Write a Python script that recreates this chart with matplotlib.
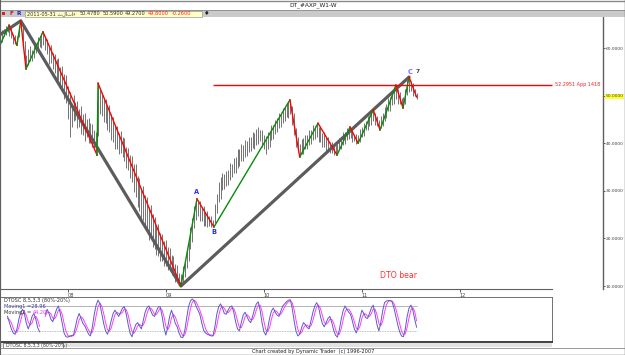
import numpy as np
import matplotlib
matplotlib.use("Agg")
import matplotlib.pyplot as plt
from matplotlib.patches import Rectangle

# picture size in pixels and week scale
W, H = 625, 355
PX_WEEK = 1.885

# weekly bars (week 0 = left edge), prices
bar_high = [
    62.6, 63.8, 63.9, 64.6, 64.8, 64.5, 64.2, 63.0, 62.8, 62.6,
    64.6, 65.7, 64.5, 61.5, 58.5, 59.8, 60.5, 59.6, 61.2, 61.0,
    62.4, 62.2, 63.1, 63.4, 62.5, 61.8, 60.2, 60.6, 59.0, 58.8,
    57.6, 57.8, 56.0, 56.3, 54.5, 54.4, 52.0, 50.8, 48.0, 50.2,
    48.6, 48.8, 47.2, 47.9, 46.2, 46.4, 45.0, 45.3, 44.2, 44.0,
    42.8, 42.4, 52.6, 51.2, 50.4, 49.2, 49.3, 47.6, 48.0, 46.2,
    45.6, 43.8, 43.6, 42.2, 42.6, 41.2, 41.0, 39.2, 39.0, 37.6,
    37.4, 35.6, 35.6, 33.2, 32.6, 30.6, 31.0, 29.2, 28.6, 26.6,
    27.0, 25.2, 24.6, 22.6, 23.0, 21.2, 21.0, 19.4, 19.6, 18.2,
    18.0, 16.6, 16.4, 14.6, 14.4, 12.8, 12.6, 14.2, 15.3, 17.8,
    19.2, 22.3, 24.2, 26.8, 28.3, 27.6, 27.8, 26.6, 26.8, 25.6,
    25.8, 24.8, 24.7, 23.9, 27.2, 29.3, 31.8, 32.8, 33.8, 33.6,
    34.2, 34.3, 35.8, 35.7, 36.8, 37.0, 38.7, 38.8, 39.8, 39.7,
    40.6, 40.5, 41.3, 41.2, 42.3, 42.2, 43.0, 43.3, 42.7, 42.8,
    41.8, 41.6, 42.3, 42.6, 43.8, 43.8, 44.8, 45.2, 46.3, 46.2,
    47.5, 47.6, 48.5, 48.6, 49.1, 47.8, 46.3, 43.2, 41.3, 39.8,
    40.8, 41.0, 41.8, 41.8, 42.8, 42.7, 43.8, 43.7, 44.2, 43.5,
    43.3, 42.2, 42.3, 41.2, 41.3, 40.3, 40.3, 39.6, 39.7, 39.9,
    41.0, 41.3, 42.3, 42.3, 43.2, 43.4, 42.8, 42.7, 41.8, 42.0,
    41.8, 43.0, 43.3, 44.2, 44.6, 45.7, 45.8, 46.7, 47.0, 46.3,
    45.7, 44.8, 45.7, 46.3, 47.7, 48.3, 49.4, 49.8, 51.0, 51.3,
    52.2, 51.3, 50.7, 49.6, 49.7, 51.3, 53.2, 53.9, 53.0, 52.6,
    51.3, 50.59,
]
bar_low = [
    60.6, 61.2, 62.5, 62.7, 63.3, 62.5, 62.2, 60.8, 60.9, 60.6,
    62.3, 63.6, 60.2, 57.3, 55.6, 56.4, 57.2, 57.3, 58.0, 59.0,
    59.3, 60.2, 60.0, 60.7, 59.5, 58.8, 56.7, 56.8, 55.5, 54.8,
    53.5, 53.3, 51.7, 51.1, 49.2, 48.4, 45.0, 41.3, 43.4, 44.7,
    44.8, 43.2, 43.3, 41.9, 41.8, 40.5, 41.2, 40.0, 40.0, 39.3,
    39.0, 37.5, 41.5, 46.2, 45.8, 44.5, 44.3, 42.7, 42.3, 40.7,
    40.3, 38.8, 38.8, 37.8, 38.0, 37.0, 36.3, 34.7, 34.3, 32.7,
    31.8, 29.7, 28.8, 26.7, 25.8, 24.3, 23.8, 22.2, 21.3, 19.7,
    19.8, 18.2, 17.8, 16.5, 16.3, 15.2, 15.3, 14.3, 14.2, 13.3,
    13.2, 12.3, 12.0, 10.9, 11.0, 10.2, 10.0, 10.7, 11.8, 13.7,
    15.3, 17.7, 19.3, 22.2, 23.8, 24.7, 23.6, 23.7, 22.6, 22.7,
    22.4, 22.7, 22.5, 22.4, 23.2, 25.3, 27.7, 28.3, 30.2, 30.3,
    31.0, 31.3, 32.2, 32.8, 33.7, 33.8, 34.7, 35.3, 36.2, 36.3,
    37.2, 37.3, 38.2, 38.3, 39.0, 38.8, 39.7, 39.8, 40.4, 39.3,
    38.7, 37.8, 38.7, 39.3, 40.7, 40.8, 42.0, 42.3, 43.2, 43.3,
    44.2, 44.6, 45.4, 45.3, 46.2, 43.8, 41.7, 39.3, 38.2, 37.1,
    37.7, 37.8, 38.7, 38.8, 39.7, 39.8, 40.7, 40.8, 41.4, 40.3,
    40.2, 39.3, 39.2, 38.3, 38.2, 38.0, 38.0, 37.5, 37.7, 37.6,
    38.7, 38.8, 39.7, 39.8, 40.7, 40.8, 41.0, 40.3, 40.4, 39.8,
    40.2, 40.3, 41.2, 41.6, 42.7, 42.8, 43.7, 43.8, 44.7, 43.8,
    43.7, 42.8, 43.2, 43.6, 44.7, 45.3, 46.7, 46.8, 48.0, 48.3,
    49.2, 48.3, 48.2, 47.5, 47.4, 48.3, 50.2, 50.8, 51.0, 50.0,
    50.0, 49.27,
]

# swing pivots (zigzag) and the big A-B-C gray lines
zz_week = [0, 4.8, 9, 11, 13.8, 22.8, 51.5, 52, 96, 104.5, 113.5, 153.8, 159,
           168.7, 178.8, 185.7, 190, 198, 201.6, 210, 213.8, 217, 221]
zz_price = [60.6, 64.8, 60.6, 65.7, 55.6, 63.4, 37.5, 52.6, 10.0, 28.3, 22.4, 49.1,
            37.1, 44.2, 37.5, 43.4, 40.0, 47.0, 42.8, 52.2, 47.4, 53.9, 49.7]
abc_week = [0, 11, 96, 217]
abc_price = [62.8, 65.7, 10.0, 53.9]

target_price = 52.2951
target_label = "52.2951 App 1418"
target_from, target_to = 113, 293

price_ticks = [10, 20, 30, 40, 50, 60]
year_weeks = [36, 88, 140, 192, 244]
year_labels = ["08", "09", "10", "11", "12"]

# DTOSC 8,5,3,3 lines, weeks 4..221 (nan = gap)
nan = np.nan
osc_fast = [
    55, 40, 25, 15, 12, 25, 48, 65, 72, 60, 38, 25, 38, 55, 62, 48, 28, 18,
    nan, nan, 60, 72, 62, 48, 42, 58, 72, 80, 62, 38, 15, 6, 5, 8, 9, 10,
    30, 50, 62, 50, 38, 32, 22, 12, 8, 30, 60, 82, 94, 85, 62, 38, 20, 12,
    25, 45, 62, 70, 62, 55, 65, 75, 78, 60, 35, 15, 6, 22, 35, 40, 32, 25,
    45, 65, 76, 80, 68, 58, 55, 68, 78, 78, 55, 28, 10, 30, 55, 70, 55, 38,
    30, 15, 5, 4, 20, 50, 78, 92, 97, 92, 80, 70, 60, 40, 22, 15, 12, 10,
    8, 8, 30, 60, 78, 85, 75, 62, 60, 70, 78, 80, 65, 42, 25, 20, 40, 58,
    65, 55, 45, 40, 55, 72, 85, 90, 70, 40, 18, 10, 25, 50, 68, 75, 65, 58,
    55, 68, 80, 85, 90, 94, 95, 75, 45, 20, 8, 12, 28, 40, 35, 28, 25, 45,
    65, 80, 88, 78, 55, 38, 30, 40, 50, 55, 40, 22, 10, 5, 22, 48, 68, 80,
    72, 65, 60, 42, 25, 15, 30, 52, 70, 62, 52, 50, 62, 75, 82, 60, 35, 20,
    40, 68, 88, 92, 93, 93, 90, 75, 55, 35, 18, 8, 6, 25, 55, 75, 82, 70,
    48, 28.96,
]
osc_slow = [
    50, 47, 40, 27, 17, 17, 28, 46, 62, 66, 57, 41, 34, 39, 52, 55, 46, 31,
    nan, nan, 55, 65, 65, 61, 51, 49, 57, 70, 71, 60, 38, 20, 9, 6, 7, 9,
    16, 30, 47, 54, 50, 40, 31, 22, 14, 17, 33, 57, 79, 87, 80, 62, 40, 23,
    19, 27, 44, 59, 65, 62, 61, 65, 73, 71, 58, 37, 19, 14, 21, 32, 36, 32,
    34, 45, 62, 74, 75, 69, 60, 60, 67, 75, 70, 54, 31, 23, 32, 52, 60, 54,
    41, 28, 17, 8, 10, 25, 49, 73, 89, 94, 90, 81, 70, 57, 41, 26, 16, 12,
    10, 9, 15, 33, 56, 74, 79, 74, 66, 64, 69, 76, 74, 62, 44, 29, 28, 39,
    54, 59, 55, 47, 47, 56, 71, 82, 82, 67, 43, 23, 18, 28, 48, 64, 69, 66,
    59, 60, 68, 78, 85, 90, 93, 88, 72, 47, 24, 13, 16, 27, 34, 34, 29, 33,
    45, 63, 78, 82, 74, 57, 41, 36, 40, 48, 48, 39, 24, 12, 12, 25, 46, 65,
    73, 72, 66, 56, 42, 27, 23, 32, 51, 61, 61, 55, 55, 62, 73, 72, 59, 38,
    32, 43, 65, 83, 91, 93, 92, 86, 73, 55, 36, 20, 11, 13, 29, 52, 71, 76,
    67, 44.2,
]
osc_start = 4


def box(x0, y0, x1, y1):
    return [x0 / W, 1 - y1 / H, (x1 - x0) / W, (y1 - y0) / H]


def py(y):
    # pixel row -> price
    return 10 + (286 - y) / 4.76


fig = plt.figure(figsize=(W / 100, H / 100), dpi=100)
fig.patch.set_facecolor("white")

# ---------- main price panel ----------
ax = fig.add_axes(box(0, 17, 603, 289))
ax.set_xlim(0, 603 / PX_WEEK)
ax.set_ylim(py(289), py(17))

weeks = np.arange(len(bar_high))
ax.vlines(weeks, bar_low, bar_high, color="#686868", lw=0.65, zorder=2)

ax.plot(abc_week, abc_price, color="#5c5c5c", lw=2.3, solid_capstyle="round", zorder=3)
for i in range(len(zz_week) - 1):
    c = "#0a8a0a" if zz_price[i + 1] > zz_price[i] else "#ff0000"
    ax.plot(zz_week[i:i + 2], zz_price[i:i + 2], color=c, lw=1.0, zorder=4)

ax.hlines(target_price, target_from, target_to, color="#ff0000", lw=1.0, zorder=4)
ax.text(target_to + 1.5, target_price, target_label, color="#ff2020", fontsize=3.5,
        va="center", ha="left")

ax.annotate("A", (zz_week[9], zz_price[9]), xytext=(0, 2.5), textcoords="offset points",
            ha="center", va="bottom", fontsize=4.8, color="#2d2dff", fontweight="bold")
ax.annotate("B", (zz_week[10], zz_price[10]), xytext=(0, -1.5), textcoords="offset points",
            ha="center", va="top", fontsize=4.8, color="#2d2dff", fontweight="bold")
ax.annotate("C", (zz_week[21], zz_price[21]), xytext=(1, 1.5), textcoords="offset points",
            ha="center", va="bottom", fontsize=4.8, color="#6c6cff", fontweight="bold")
ax.annotate("7", (zz_week[21], zz_price[21]), xytext=(6.5, 2.5), textcoords="offset points",
            ha="center", va="bottom", fontsize=4.2, color="#404040", fontweight="bold")
ax.text(399 / 603, (289 - 275) / 272, "DTO bear", transform=ax.transAxes,
        color="#ff3030", fontsize=5.6, ha="center", va="center")

ax.yaxis.tick_right()
ax.set_yticks(price_ticks)
ax.set_yticklabels([f"{v:.4f}" for v in price_ticks])
ax.tick_params(axis="y", direction="out", length=1.5, width=0.6, labelsize=3.2, pad=0.5,
               colors="#404040")
for lab, v in zip(ax.get_yticklabels(), price_ticks):
    if v == 50:
        lab.set_bbox(dict(facecolor="#ffff30", edgecolor="none", pad=0.3))
ax.set_xticks(year_weeks)
ax.set_xticklabels(year_labels, ha="left")
ax.tick_params(axis="x", direction="out", length=2, width=0.6, labelsize=3.6, pad=0.8,
               colors="#404040")

ax.spines["top"].set_visible(False)
ax.spines["left"].set_color("#404040")
ax.spines["right"].set_color("#606060")
ax.spines["right"].set_linewidth(1.0)
ax.spines["bottom"].set_color("#606060")
ax.spines["bottom"].set_bounds(0, 552 / PX_WEEK)

# ---------- oscillator panel ----------
oax = fig.add_axes(box(0, 297, 552, 342))
oax.set_xlim(0, 552 / PX_WEEK)
oax.set_ylim(-6.6, 101.6)
oax.set_xticks([])
oax.set_yticks([])
ow = np.arange(osc_start, osc_start + len(osc_fast))
oax.hlines(80, osc_start, ow[-1], color="#a8a8a8", lw=0.6)
oax.hlines(20, osc_start, ow[-1], color="#a8a8a8", lw=0.6, linestyles=(0, (1, 1)))
oax.plot(ow, osc_slow, color="#ff3cff", lw=0.7)
oax.plot(ow, osc_fast, color="#5a5ac8", lw=0.7)
for s in oax.spines.values():
    s.set_color("#707070")
    s.set_linewidth(0.7)
oax.spines["bottom"].set_linewidth(1.4)
oax.spines["bottom"].set_color("#404040")

# ---------- window chrome (pixel coords overlay) ----------
bg = fig.add_axes([0, 0, 1, 1], zorder=5)
bg.set_xlim(0, W)
bg.set_ylim(H, 0)
bg.axis("off")
bg.patch.set_alpha(0)

bg.add_patch(Rectangle((0, 9.5), W, 7.5, facecolor="#cacaca", edgecolor="none"))
bg.plot([0, W], [9.5, 9.5], color="#8a8a8a", lw=0.6)
bg.plot([0, W], [0.5, 0.5], color="#8a8a8a", lw=1.0)
bg.add_patch(Rectangle((1.5, 12.2), 3, 3, facecolor="#e02020", edgecolor="none"))
bg.text(11, 13.6, "F", color="#c02020", fontsize=4.2, fontweight="bold", ha="center", va="center")
bg.text(19, 13.6, "R", color="#2020c0", fontsize=4.2, fontweight="bold", ha="center", va="center")
bg.add_patch(Rectangle((25, 10.5), 177, 6, facecolor="#ffffc4", edgecolor="#9a9a9a", lw=0.5))
bg.text(27, 13.6, "2011-05-31 ثلاثاء", fontsize=3.6, va="center", ha="left", color="#303030")
info_vals = ["50.4780", "50.5900", "49.2700", "49.8000", "-0.2600"]
info_x = [80, 103, 125, 148, 172]
info_col = ["#303030", "#303030", "#303030", "#ff2020", "#ff2020"]
for x, t, c in zip(info_x, info_vals, info_col):
    bg.text(x, 13.6, t, fontsize=3.6, va="center", ha="left", color=c)
bg.text(207, 13.4, "♦", fontsize=4.5, va="center", ha="center", color="#202020")
bg.text(313, 4.8, "DT_#AXP_W1-W", fontsize=4.2, va="center", ha="center", color="#202020")

bg.text(4, 300.5, "DTOSC 8,5,3,3 (80%-20%)", fontsize=3.6, va="center", ha="left", color="#303030")
bg.text(4, 306.3, "Moving1 =28.96", fontsize=3.6, va="center", ha="left", color="#3a3a9a")
m2 = bg.text(4, 312.2, "Moving2 =", fontsize=3.6, va="center", ha="left", color="#303030")
bg.annotate("44.20", xy=(1, 0.5), xycoords=m2, xytext=(1, 0), textcoords="offset points",
            fontsize=3.6, va="center", ha="left", color="#ff30ff")

bg.add_patch(Rectangle((0, 342.5), 552, 4.5, facecolor="#e2e2e2", edgecolor="none"))
bg.add_patch(Rectangle((3, 342.5), 60, 5.5, facecolor="white", edgecolor="#606060", lw=0.5))
bg.text(6, 345.3, "DTOSC 8,5,3,3 (80%-20%)", fontsize=3.3, va="center", ha="left", color="#303030")
bg.plot([0, W], [347.5, 347.5], color="#8a8a8a", lw=0.6)
bg.text(313, 351.3, "Chart created by Dynamic Trader  (c) 1996-2007", fontsize=3.6,
        va="center", ha="center", color="#202020")
bg.plot([0, W], [354.5, 354.5], color="#606060", lw=1.0)
bg.plot([624.5, 624.5], [0, H], color="#606060", lw=1.0)
bg.plot([0.3, 0.3], [0, H], color="#606060", lw=0.8)

fig.savefig("out.png", dpi=100)
